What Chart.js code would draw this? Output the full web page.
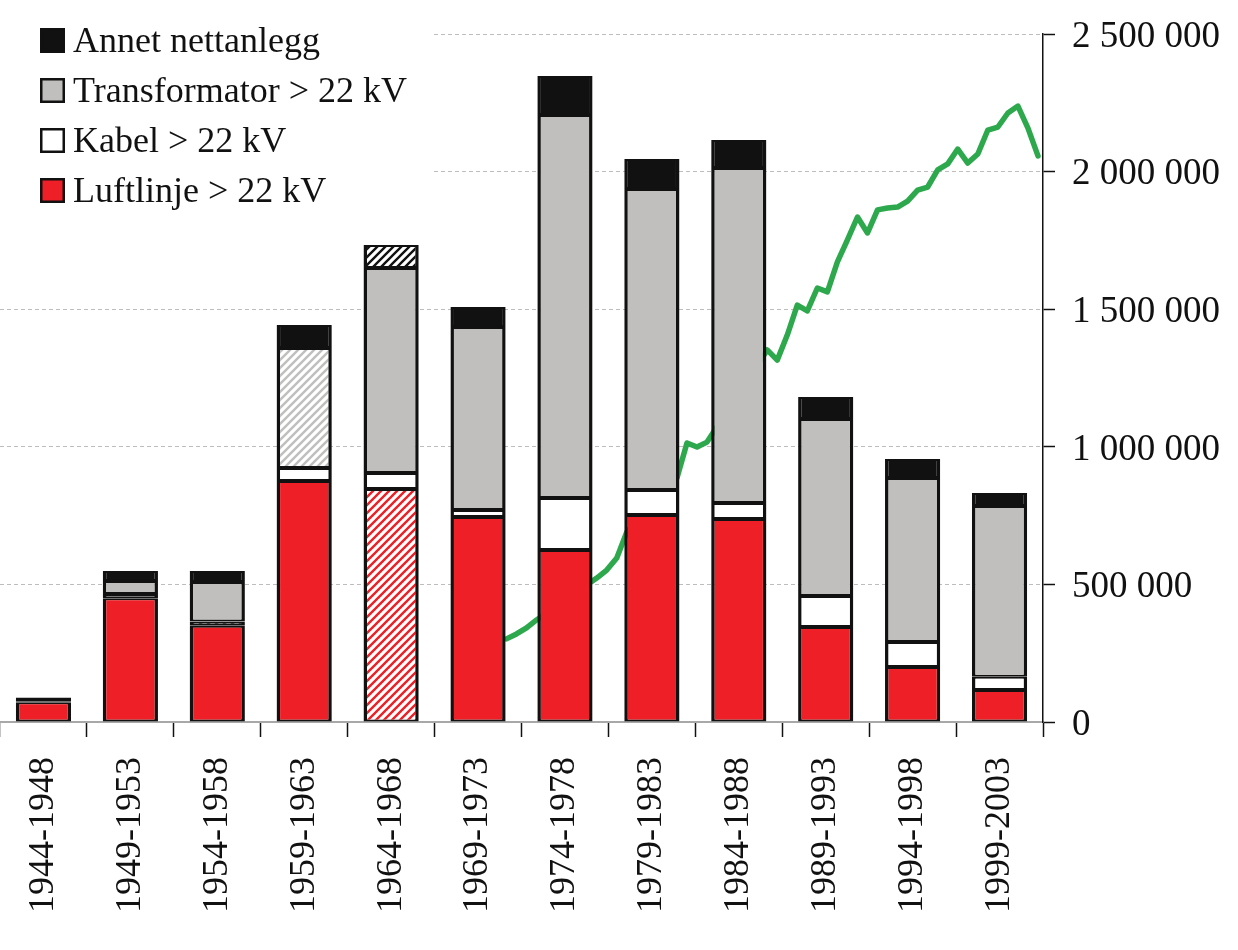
<!DOCTYPE html>
<html>
<head>
<meta charset="utf-8">
<script src="https://cdn.jsdelivr.net/npm/chart.js@4.4.1/dist/chart.umd.min.js"></script>
<style>
html,body{margin:0;padding:0;background:#fff;}
#c{display:block;}
</style>
</head>
<body>
<canvas id="c" width="1238" height="950"></canvas>
<script>
// ---------- data ----------
const categories = ['1944-1948','1949-1953','1954-1958','1959-1963','1964-1968','1969-1973','1974-1978','1979-1983','1984-1988','1989-1993','1994-1998','1999-2003'];
const luftlinje     = [72000, 450000, 350000, 876000, 847000, 745000, 625000, 752000, 738000, 345000, 200000, 116000];
const kabel         = [3000, 15000, 15000, 47000, 58000, 25000, 189000, 91000, 58000, 113000, 91000, 48000];
const transformator = [5000, 47000, 144000, 436000, 745000, 665000, 1392000, 1094000, 1217000, 643000, 596000, 621000];
const annet         = [9000, 37000, 40000, 84000, 83000, 73000, 141000, 109000, 102000, 80000, 69000, 47000];
// hatched (uncertain) segments: category indices
const hatchedLuft  = [4];
const hatchedKabel = [2];
const hatchedTrafo = [3];
const hatchedAnnet = [4];
// yearly line (only the visible years)
const lineYears  = [1950,1951,1952,1953,1959,1960,1961,1962,1967,1968,1969,1970,1976,1977,1978,1979,1980,1981,1982,1983,1984,1985,1986,1987,1988,1989,1990,1991,1992,1993,1994,1995,1996,1997,1998,1999,2000,2001,2002,2003];
const lineValues = [302000,320000,342000,371000,523000,552000,596000,690000,887000,1014000,999000,1017000,1352000,1315000,1406000,1515000,1494000,1577000,1563000,1672000,1752000,1835000,1777000,1861000,1868000,1871000,1893000,1933000,1944000,2006000,2028000,2082000,2031000,2064000,2151000,2162000,2213000,2238000,2158000,2057000];
const yTicks = [0, 500000, 1000000, 1500000, 2000000, 2500000];

// ---------- styles ----------
const RED = '#ee1f26', GRAY = '#c0bfbd', BLACK = '#111111', WHITE = '#ffffff', GREEN = '#2ea84d';
const FONT = "'Liberation Serif', 'Times New Roman', serif";
Chart.defaults.font.family = FONT;
Chart.defaults.font.size = 36;
Chart.defaults.color = '#111';

const canvas = document.getElementById('c');
const ctx = canvas.getContext('2d');

function hatch(color) {
  const t = document.createElement('canvas');
  t.width = 8; t.height = 8;
  const g = t.getContext('2d');
  g.fillStyle = '#fff'; g.fillRect(0, 0, 8, 8);
  g.strokeStyle = color; g.lineWidth = 2.4; g.lineCap = 'square';
  g.beginPath();
  g.moveTo(-2, 10); g.lineTo(10, -2);
  g.moveTo(-2, 2); g.lineTo(2, -2);
  g.moveTo(6, 10); g.lineTo(10, 6);
  g.stroke();
  return ctx.createPattern(t, 'repeat');
}
function fills(base, hatchColor, hatchedIdx) {
  const p = hatch(hatchColor);
  return categories.map((_, i) => hatchedIdx.includes(i) ? p : base);
}

const barCommon = {
  type: 'bar', xAxisID: 'x', yAxisID: 'y', order: 1,
  borderColor: BLACK,
  borderWidth: {top: 2, bottom: 2, left: 3.5, right: 3.5},
  borderSkipped: false,
  grouped: false,
  barPercentage: 0.635, categoryPercentage: 1.0
};

const datasets = [
  Object.assign({}, barCommon, {label: 'Luftlinje > 22 kV', data: luftlinje, backgroundColor: fills(RED, RED, hatchedLuft), legendColor: RED}),
  Object.assign({}, barCommon, {label: 'Kabel > 22 kV', data: kabel, backgroundColor: fills(WHITE, BLACK, hatchedKabel), legendColor: WHITE}),
  Object.assign({}, barCommon, {label: 'Transformator > 22 kV', data: transformator, backgroundColor: fills(GRAY, GRAY, hatchedTrafo), legendColor: GRAY}),
  Object.assign({}, barCommon, {label: 'Annet nettanlegg', data: annet, backgroundColor: fills(BLACK, BLACK, hatchedAnnet), legendColor: BLACK}),
  {
    type: 'line', label: 'line', xAxisID: 'xl', yAxisID: 'yl', order: 10,
    data: lineYears.map((yr, i) => ({x: yr, y: lineValues[i]})),
    borderColor: GREEN, borderWidth: 5.5, pointRadius: 0, tension: 0,
    borderJoinStyle: 'round', borderCapStyle: 'round', fill: false
  }
];

const fmt = v => String(v).replace(/\B(?=(\d{3})+(?!\d))/g, ' ');

const legendPlugin = {
  id: 'boxLegend',
  beforeDatasetsDraw(chart) {
    const c = chart.ctx;
    c.save();
    c.fillStyle = '#fff';
    c.fillRect(0, 0, 432, 215);
    const items = chart.data.datasets.filter(d => d.type === 'bar').slice().reverse();
    c.font = '36px ' + FONT;
    c.textBaseline = 'alphabetic';
    c.textAlign = 'left';
    items.forEach((d, k) => {
      const top = 28 + 50 * k;
      c.fillStyle = d.legendColor;
      c.fillRect(40, top, 25, 25);
      c.lineWidth = 2.5;
      c.strokeStyle = BLACK;
      c.strokeRect(41.25, top + 1.25, 22.5, 22.5);
      c.fillStyle = '#111';
      c.fillText(d.label, 73, top + 24);
    });
    c.restore();
  }
};

new Chart(ctx, {
  type: 'bar',
  data: {labels: categories, datasets},
  plugins: [legendPlugin],
  options: {
    responsive: false,
    animation: false,
    events: [],
    layout: {padding: {top: 34, left: 0, right: 0, bottom: 0}},
    plugins: {legend: {display: false}, tooltip: {enabled: false}},
    scales: {
      x: {
        type: 'category', stacked: true, offset: true,
        grid: {offset: true, drawOnChartArea: false, drawTicks: true, tickLength: 15, tickColor: '#111', tickWidth: 1.5},
        border: {display: true, color: '#a8a8a8', width: 2},
        ticks: {minRotation: 90, maxRotation: 90, autoSkip: false, padding: 20, color: '#111', font: {size: 36, family: FONT}},
        afterFit(s) { s.height = 228; }
      },
      xl: {
        type: 'linear', display: false, offset: false, bounds: 'ticks', min: 1899.5, max: 2003.5,
        grid: {offset: false}
      },
      yl: {
        type: 'linear', display: false, offset: false, min: 0, max: 2500000
      },
      y: {
        position: 'right', stacked: true, min: 0, max: 2500000,
        afterBuildTicks(s) { s.ticks = yTicks.map(v => ({value: v})); },
        ticks: {padding: 17, labelOffset: 3, color: '#111', font: {size: 37, family: FONT, lineHeight: 0.85}, callback: v => fmt(v)},
        grid: {color: '#bdbdbd', lineWidth: 1, tickLength: 12, tickColor: '#111', tickWidth: 1.5, tickBorderDash: []},
        border: {display: true, color: '#111', width: 1.5, dash: [4, 3]},
        afterFit(s) { s.width = 195; }
      }
    }
  }
});
</script>
</body>
</html>
